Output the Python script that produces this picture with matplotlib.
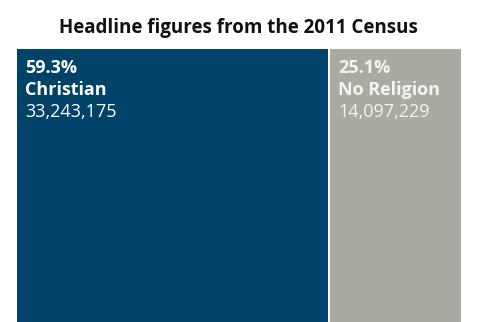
import matplotlib
matplotlib.use("Agg")
import matplotlib.pyplot as plt

title = "Headline figures from the 2011 Census"
categories = ["Christian", "No Religion"]
percents = [59.3, 25.1]
counts = [33243175, 14097229]
colors = ["#004268", "#a9aba2"]
text_colors = ["#ffffff", "#f4f4f0"]

W, H, DPI = 478, 322, 100
fig = plt.figure(figsize=(W / DPI, H / DPI), dpi=DPI)
fig.patch.set_facecolor("white")

# plotting area in pixel terms; the bottom runs past the figure edge
left_px, right_px, top_px, bottom_px = 16.3, 461.7, 48.3, 330
ax = fig.add_axes([left_px / W, (H - bottom_px) / H,
                   (right_px - left_px) / W, (bottom_px - top_px) / H])
ax.set_xlim(0, sum(percents))
ax.set_ylim(0, 1)
ax.axis("off")

lefts = [sum(percents[:i]) for i in range(len(percents))]
ax.bar(lefts, [1] * len(percents), width=percents, align="edge",
       color=colors, edgecolor="white", linewidth=1.4)

font = "Open Sans"
pt = 72 / DPI  # points per pixel
off_top = top_px + 0.7
for x0, pct, cat, cnt, tc in zip(lefts, percents, categories, counts, text_colors):
    common = dict(xy=(x0, 1), xycoords=("data", "axes fraction"),
                  textcoords="offset points", ha="left", va="baseline",
                  color=tc, family=font)
    ax.annotate(f"{pct:.1f}%", xytext=(9 * pt, -(73.3 - top_px) * pt),
                fontsize=13, fontweight="bold", **common)
    ax.annotate(cat, xytext=(9 * pt, -(95 - top_px) * pt),
                fontsize=13, fontweight="bold", **common)
    ax.annotate(f"{cnt:,}", xytext=(9 * pt, -(117 - top_px) * pt),
                fontsize=13, fontweight="normal", **common)

fig.text(238.5 / W, 1 - 33 / H, title, ha="center", va="baseline",
         fontsize=13.5, fontweight="bold", family=font, color="#111111")

fig.savefig("out.png", dpi=DPI)
